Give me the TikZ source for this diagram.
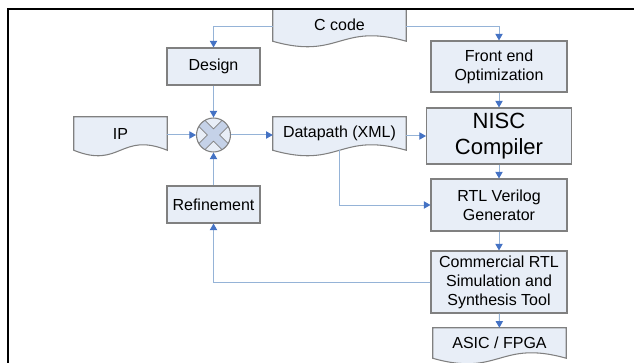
\documentclass[tikz,border=0pt]{standalone}
\usepackage{fontspec}
\setmainfont{Liberation Sans}
\usepackage{tikz}
\usetikzlibrary{arrows.meta, calc, backgrounds}
\definecolor{boxfill}{RGB}{232,238,247}
\definecolor{boxline}{RGB}{128,128,128}
\definecolor{crossfill}{RGB}{197,210,232}
\definecolor{linkblue}{RGB}{149,179,215}
\definecolor{tipblue}{RGB}{68,114,196}
\tikzset{
  stage/.style={rectangle, draw=boxline, fill=boxfill, line width=0.8pt,
    inner sep=0pt, align=center, font=\fontsize{12}{14.3}\selectfont},
  doc/.style={rectangle, inner sep=0pt, align=center,
    font=\fontsize{12}{14.3}\selectfont},
  docline/.style={draw=boxline, fill=boxfill, line width=0.8pt},
  sumjunc/.style={circle, draw=boxline, fill=boxfill, line width=0.8pt,
    minimum size=25.5pt, inner sep=0pt,
    path picture={
      \draw[boxline, line width=7pt]
        (path picture bounding box.north west) -- (path picture bounding box.south east)
        (path picture bounding box.north east) -- (path picture bounding box.south west);
      \draw[crossfill, line width=5.6pt]
        (path picture bounding box.north west) -- (path picture bounding box.south east)
        (path picture bounding box.north east) -- (path picture bounding box.south west);
    }},
  link/.style={draw=linkblue, line width=0.75pt,
    -{Triangle[length=5pt, width=5.5pt, color=tipblue]}}
}

\begin{document}
\begin{tikzpicture}[x=0.75pt, y=-0.75pt]
  \useasboundingbox (0,0) rectangle (634,363);

  % Documents (outlines drawn below)
  \node[doc, minimum width=99.75pt, minimum height=24pt] (ccode) at (339.5,25) {C code};
  \node[doc, minimum width=69.75pt, minimum height=24.75pt] (ip) at (120.5,133.5) {IP};
  \node[doc, minimum width=99.75pt, minimum height=24.75pt] (datapath) at (339.5,133.5) {Datapath (XML)};
  \node[doc, minimum width=99.75pt, minimum height=22.5pt] (asic) at (499.5,343) {ASIC / FPGA};

  % Left column
  \node[stage, minimum width=69.75pt, minimum height=27.75pt] (design) at (213.5,66.5) {Design};
  \node[sumjunc] (sum) at (213.5,135) {};
  \node[stage, minimum width=69.75pt, minimum height=27.75pt] (refine) at (213.5,204.5) {Refinement};

  % Tool chain
  \node[stage, minimum width=102pt, minimum height=38.25pt] (front) at (499,66.5) {Front end\\Optimization};
  \node[stage, minimum width=108.75pt, minimum height=42pt,
    font=\fontsize{16.5}{20}\selectfont] (nisc) at (499,136) {NISC\\Compiler};
  \node[stage, minimum width=102pt, minimum height=39pt] (rtl) at (499,205) {RTL Verilog\\Generator};
  \node[stage, minimum width=102pt, minimum height=46.5pt] (commercial) at (499,282)
    {Commercial RTL\\Simulation and\\Synthesis Tool};

  % Document outline with wavy bottom
  \begin{scope}[on background layer]
    \foreach \n in {ccode, ip, datapath, asic}
      \draw[docline] (\n.south west) -- (\n.north west) -- (\n.north east) -- (\n.south east)
        .. controls ($(\n.south)+(0,-19)$) and ($(\n.south)+(0,19)$) .. (\n.south west) -- cycle;
  \end{scope}

  % Connectors
  \draw[link] ([yshift=-1.5pt]ccode.west) -| (design.north);
  \draw[link] ([yshift=-1.5pt]ccode.east) -| (front.north);
  \draw[link] (design) -- (sum);
  \draw[link] (ip.east |- sum) -- (sum.west);
  \draw[link] (sum.east) -- (sum -| datapath.west);
  \draw[link] (refine) -- (sum);
  \draw[link] (datapath.east |- nisc) -- (nisc.west);
  \draw[link] (front) -- (nisc);
  \draw[link] (nisc) -- (rtl);
  \draw[link] (datapath.south) |- (rtl.west);
  \draw[link] (rtl) -- (commercial);
  \draw[link] (commercial) -- (asic);
  \draw[link] (commercial.west) -| (refine.south);

  % Frame
  \draw[line width=1.6pt] (8,363) -- (8,9) -- (634,9);
\end{tikzpicture}
\end{document}
